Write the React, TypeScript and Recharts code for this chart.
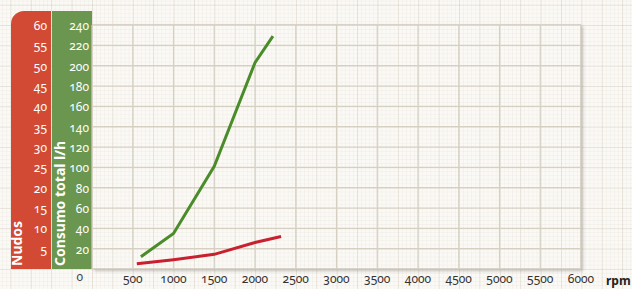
import { LineChart, Line, XAxis, YAxis, CartesianGrid } from "recharts";

// consumo total (l/h) vs rpm
const consumoRpm = [600, 1000, 1500, 2000, 2220];
const consumoLh = [12, 35, 101, 203, 229];

// velocidad (nudos) vs rpm
const nudosRpm = [550, 1000, 1500, 2000, 2320];
const nudosKn = [1.3, 2.3, 3.6, 6.5, 8.0];

const rpmTicks = [500, 1000, 1500, 2000, 2500, 3000, 3500, 4000, 4500, 5000, 5500, 6000];
const nudosTicks = [5, 10, 15, 20, 25, 30, 35, 40, 45, 50, 55, 60];
const consumoTicks = [0, 20, 40, 60, 80, 100, 120, 140, 160, 180, 200, 220, 240];

const consumoData = consumoRpm.map((rpm, i) => ({ rpm, v: consumoLh[i] }));
const nudosData = nudosRpm.map((rpm, i) => ({ rpm, v: nudosKn[i] }));

const FONT = "'Noto Sans', 'Open Sans', sans-serif";
const RED = "#d24a34";
const GREEN = "#6a9650";
const NUM_STYLE = { fontVariantNumeric: "oldstyle-nums" as const };

function ConsumoTick(props: any) {
  const { x, y, payload } = props;
  if (payload.value === 0) {
    return (
      <text x={x - 6} y={y + 12} textAnchor="end" fill="#444" fontSize={12} fontFamily={FONT} style={NUM_STYLE}>
        0
      </text>
    );
  }
  return (
    <text x={x} y={y} dy={5} textAnchor="end" fill="#fff" fontSize={12} fontFamily={FONT} style={NUM_STYLE}>
      {payload.value}
    </text>
  );
}

function NudosTick(props: any) {
  const { x, y, payload } = props;
  return (
    <text x={x} y={y} dy={5} textAnchor="end" fill="#fff" fontSize={12} fontFamily={FONT} style={NUM_STYLE}>
      {payload.value}
    </text>
  );
}

function RpmTick(props: any) {
  const { x, y, payload } = props;
  return (
    <text x={x} y={y} dy={9} textAnchor="middle" fill="#333" fontSize={12} fontFamily={FONT} style={NUM_STYLE}>
      {payload.value}
    </text>
  );
}

function SideLabel({ x, y, text }: { x: number; y: number; text: string }) {
  return (
    <text
      x={x}
      y={y}
      transform={`rotate(-90 ${x} ${y})`}
      fill="#fff"
      fontSize={14}
      fontWeight="bold"
      fontFamily={FONT}
    >
      {text}
    </text>
  );
}

export default function App() {
  return (
    <div
      style={{
        position: "absolute",
        left: 0,
        top: 0,
        width: 632,
        height: 289,
        overflow: "hidden",
        backgroundColor: "#fbf9f5",
        backgroundImage:
          "linear-gradient(to right, rgba(190,180,160,0.26) 1px, transparent 1px)," +
          "linear-gradient(to bottom, rgba(190,180,160,0.26) 1px, transparent 1px)," +
          "linear-gradient(to right, rgba(200,190,175,0.12) 1px, transparent 1px)," +
          "linear-gradient(to bottom, rgba(200,190,175,0.12) 1px, transparent 1px)",
        backgroundSize: "20.4px 20.33px, 20.4px 20.33px, 4.08px 4.07px, 4.08px 4.07px",
        backgroundPosition: "92px 25px",
      }}
    >
      <div
        style={{
          position: "absolute",
          left: 11,
          top: 11,
          width: 40,
          height: 258,
          background: RED,
          borderTopLeftRadius: 13,
        }}
      />
      <div
        style={{
          position: "absolute",
          left: 52,
          top: 11,
          width: 40,
          height: 258,
          background: GREEN,
        }}
      />
      <div
        style={{
          position: "absolute",
          left: 92,
          top: 24,
          width: 489,
          height: 245,
          boxSizing: "border-box",
          border: "1px solid #dcd6ca",
          boxShadow: "2px 2px 3px rgba(0,0,0,0.22)",
        }}
      />
      <div style={{ position: "absolute", left: 0, top: 0 }}>
        <LineChart
          width={632}
          height={289}
          margin={{ top: 25, right: 51, bottom: 0, left: 11 }}
        >
          <CartesianGrid
            yAxisId="consumo"
            stroke="#d6d0c3"
            strokeWidth={1.2}
            horizontalValues={consumoTicks}
            verticalValues={[0, ...rpmTicks]}
          />
          <XAxis
            dataKey="rpm"
            type="number"
            domain={[0, 6000]}
            ticks={rpmTicks}
            allowDuplicatedCategory={false}
            axisLine={false}
            tickLine={false}
            tickSize={0}
            tickMargin={5}
            height={20}
            tick={<RpmTick />}
          />
          <YAxis
            yAxisId="consumo"
            domain={[0, 240]}
            ticks={consumoTicks}
            axisLine={false}
            tickLine={false}
            tickSize={0}
            tickMargin={3}
            width={40}
            interval={0}
            tick={<ConsumoTick />}
            label={(p: any) => (
              <SideLabel x={p.viewBox.x + 13} y={p.viewBox.y + p.viewBox.height - 3} text="Consumo total l/h" />
            )}
          />
          <YAxis
            yAxisId="nudos"
            domain={[0, 60]}
            ticks={nudosTicks}
            axisLine={false}
            tickLine={false}
            tickSize={0}
            tickMargin={5}
            width={41}
            interval={0}
            tick={<NudosTick />}
            label={(p: any) => (
              <SideLabel x={p.viewBox.x + 11} y={p.viewBox.y + p.viewBox.height - 3} text="Nudos" />
            )}
          />
          <Line
            yAxisId="consumo"
            data={consumoData}
            dataKey="v"
            type="linear"
            stroke="#4a8c2a"
            strokeWidth={3}
            dot={false}
            isAnimationActive={false}
          />
          <Line
            yAxisId="nudos"
            data={nudosData}
            dataKey="v"
            type="linear"
            stroke="#c8202e"
            strokeWidth={3}
            dot={false}
            isAnimationActive={false}
          />
        </LineChart>
      </div>
      <div
        style={{
          position: "absolute",
          left: 606,
          top: 275,
          lineHeight: 1,
          fontFamily: FONT,
          fontSize: 12,
          fontWeight: "bold",
          color: "#222",
        }}
      >
        rpm
      </div>
    </div>
  );
}
